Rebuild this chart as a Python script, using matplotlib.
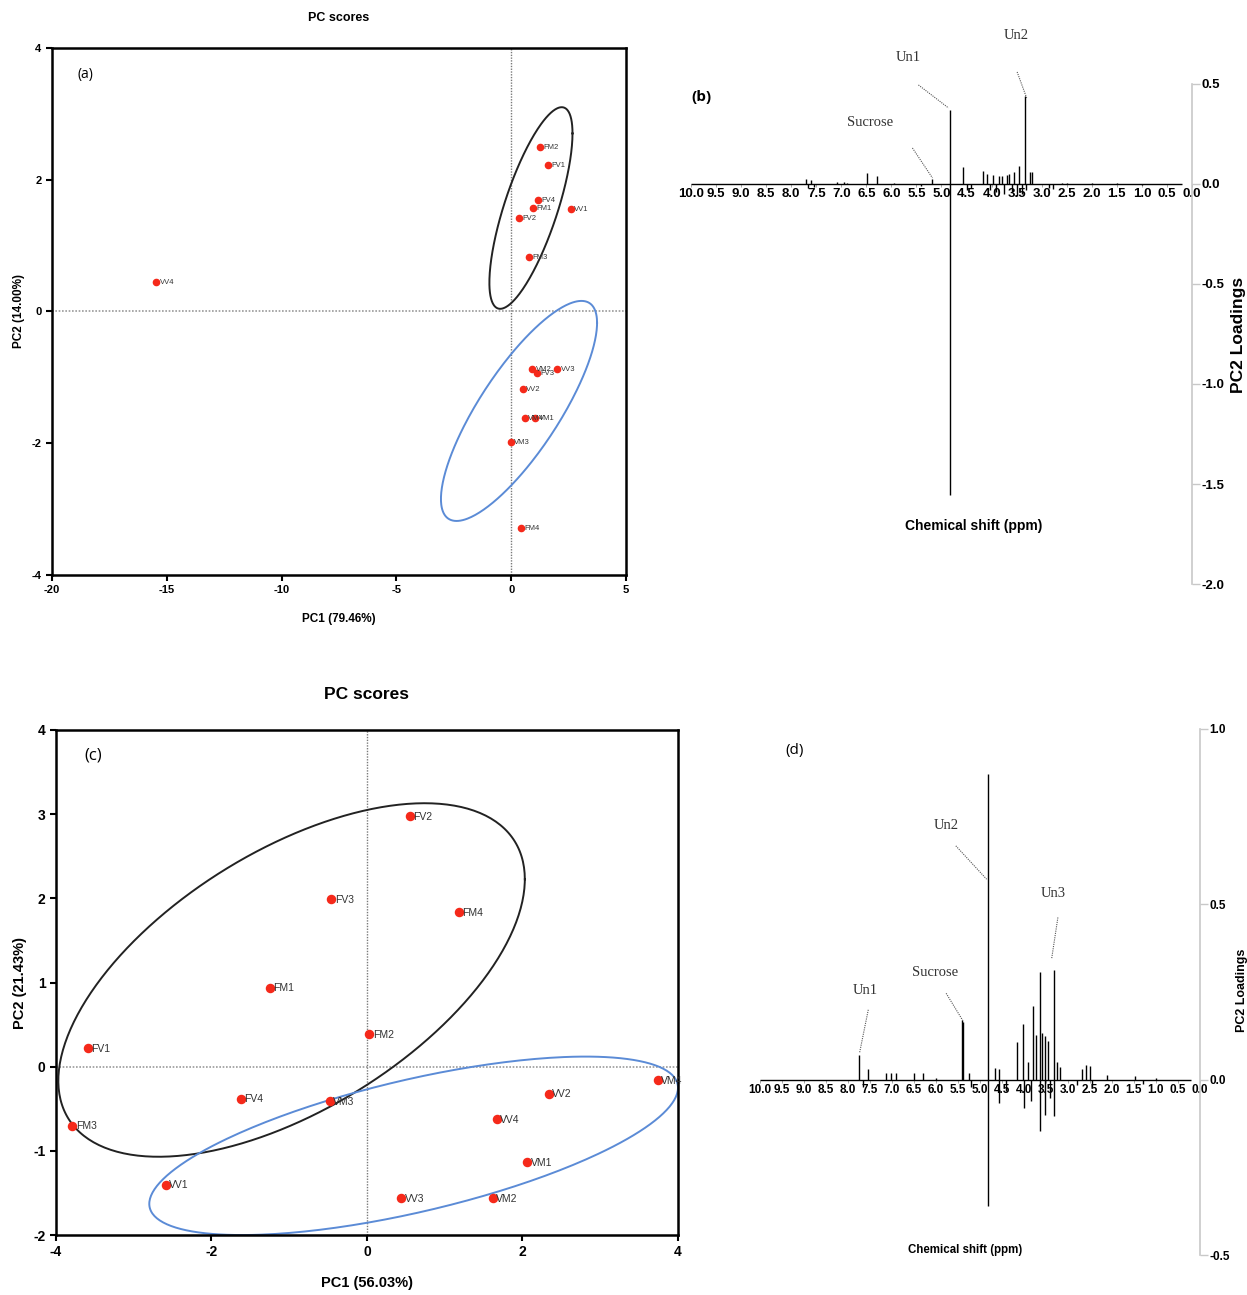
import numpy as np
import matplotlib
matplotlib.use("Agg")
import matplotlib.pyplot as plt
from matplotlib.ticker import FormatStrFormatter

plt.rcParams["font.family"] = ["Liberation Sans", "DejaVu Sans"]
plt.rcParams["axes.unicode_minus"] = False

# ---- panel (a) scores ----
a_labels = ["VV4", "FM2", "FV1", "FV4", "FM1", "FV2", "VV1", "FM3",
            "VM2", "FV3", "VV3", "VV2", "VM4", "VM1", "VM3", "FM4"]
a_pc1 = [-15.47, 1.25, 1.60, 1.17, 0.95, 0.34, 2.60, 0.78,
         0.91, 1.12, 2.00, 0.51, 0.60, 1.04, -0.01, 0.43]
a_pc2 = [0.45, 2.50, 2.22, 1.69, 1.57, 1.42, 1.56, 0.83,
         -0.87, -0.93, -0.87, -1.17, -1.61, -1.61, -1.98, -3.28]
# group ellipses: centre x, centre y, half range x, half range y, tilt (corr)
a_ell_black = [0.86, 1.57, 1.81, 1.53, 0.74]
a_ell_blue = [0.34, -1.51, 3.40, 1.67, 0.80]

# ---- panel (c) scores ----
c_labels = ["FV2", "FV3", "FM4", "FM1", "FM2", "FV1", "FV4", "VM3",
            "FM3", "VV1", "VV3", "VM2", "VM1", "VV4", "VV2", "VM4"]
c_pc1 = [0.55, -0.46, 1.18, -1.25, 0.03, -3.59, -1.62, -0.48,
         -3.79, -2.59, 0.44, 1.62, 2.06, 1.67, 2.34, 3.74]
c_pc2 = [2.98, 1.99, 1.84, 0.94, 0.39, 0.22, -0.38, -0.41,
         -0.70, -1.40, -1.56, -1.56, -1.13, -0.62, -0.32, -0.16]
c_ell_black = [-0.97, 1.03, 3.00, 2.10, 0.57]
c_ell_blue = [0.60, -0.94, 3.40, 1.06, 0.65]

# ---- panel (b) PC2 loadings (peak positions in ppm, loading) ----
b_ppm = [7.71, 7.66, 7.60, 7.55, 7.09, 6.95, 6.88, 6.48, 6.28, 5.95, 5.40, 5.18,
         4.83, 4.83, 4.58, 4.50, 4.42, 4.17, 4.10, 4.04, 3.98, 3.92, 3.85, 3.80,
         3.75, 3.70, 3.65, 3.60, 3.55, 3.50, 3.45, 3.40, 3.33, 3.31, 3.24, 3.19,
         2.85, 2.78, 2.60, 2.50, 2.00, 1.50, 1.00]
b_load = [0.025, -0.02, 0.02, -0.015, 0.008, 0.01, 0.006, 0.057, 0.042, 0.005, -0.01, 0.024,
          0.37, -1.555, 0.084, -0.03, -0.02, 0.067, 0.05, -0.03, 0.045, -0.04, 0.04, 0.04,
          -0.05, 0.045, 0.05, -0.04, 0.06, -0.06, 0.091, -0.05, 0.44, -0.03, 0.06, 0.062,
          -0.02, -0.025, 0.006, 0.005, 0.004, 0.003, -0.003]
b_ticks = np.arange(0, 10.01, 0.5)
b_yticks = [0.5, 0.0, -0.5, -1.0, -1.5, -2.0]
b_notes = [("Sucrose", 6.43, 0.305, 5.58, 0.18, 5.18, 0.03),
           ("Un1", 5.66, 0.63, 5.46, 0.495, 4.86, 0.38),
           ("Un2", 3.51, 0.74, 3.49, 0.56, 3.30, 0.43)]

# ---- panel (d) PC2 loadings ----
d_ppm = [7.75, 7.65, 7.55, 7.13, 7.02, 6.90, 6.50, 6.30, 5.99, 5.40, 5.38, 5.24, 5.20,
         4.82, 4.82, 4.67, 4.57, 4.56, 4.42, 4.17, 4.02, 4.00, 3.91, 3.85, 3.79, 3.73,
         3.64, 3.64, 3.60, 3.53, 3.53, 3.45, 3.40, 3.32, 3.31, 3.25, 3.19, 2.80,
         2.69, 2.58, 2.50, 2.45, 2.12, 1.48, 1.30, 1.00]
d_load = [0.071, -0.02, 0.03, 0.021, 0.02, 0.02, 0.019, 0.021, 0.005, 0.170, 0.165, 0.02, -0.02,
          0.871, -0.358, 0.033, 0.03, -0.066, -0.03, 0.107, 0.159, -0.08, 0.05, -0.06, 0.211, 0.129,
          0.307, -0.146, 0.133, 0.124, -0.099, 0.11, -0.05, 0.314, -0.104, 0.05, 0.038, -0.015,
          0.03, 0.043, 0.04, -0.02, 0.015, 0.012, -0.012, 0.006]
d_ticks = np.arange(0, 10.01, 0.5)
d_yticks = [1.0, 0.5, 0.0, -0.5]
d_notes = [("Un1", 7.61, 0.254, 7.54, 0.20, 7.74, 0.076),
           ("Sucrose", 6.02, 0.306, 5.77, 0.247, 5.39, 0.169),
           ("Un2", 5.77, 0.726, 5.55, 0.667, 4.85, 0.572),
           ("Un3", 3.33, 0.53, 3.23, 0.463, 3.37, 0.347)]

red = "#f5291a"


def ellipse(ax, params, color):
    cx, cy, hx, hy, r = params
    t = np.linspace(0, 2 * np.pi, 300)
    x = cx + hx * np.cos(t)
    y = cy + hy * (r * np.cos(t) + np.sqrt(1 - r * r) * np.sin(t))
    ax.plot(x, y, color=color, lw=1.4)


def scores_panel(ax, pc1, pc2, labels, xlim, ylim, xticks, yticks, tag,
                 xlabel, ylabel, sizes):
    fs_tick, fs_lab, fs_title, fs_pt, ms = sizes
    ax.axhline(0, color="#9a9a9a", ls=(0, (1, 1)), lw=1.2, zorder=0)
    ax.axvline(0, color="#7a7a7a", ls=(0, (1, 1)), lw=1.0, zorder=0)
    ax.scatter(pc1, pc2, s=ms, color=red, zorder=3)
    for x, y, t in zip(pc1, pc2, labels):
        ax.annotate(t, (x, y), xytext=(2.5, -0.5), textcoords="offset points",
                    va="center", ha="left", fontsize=fs_pt, color="#333333")
    ax.set_xlim(xlim)
    ax.set_ylim(ylim)
    ax.set_xticks(xticks)
    ax.set_yticks(yticks)
    for s in ax.spines.values():
        s.set_linewidth(1.8)
    ax.tick_params(direction="out", length=4, width=1.5, labelsize=fs_tick)
    for lab in ax.get_xticklabels() + ax.get_yticklabels():
        lab.set_fontweight("bold")
    ax.text(0.045, 0.95, tag, transform=ax.transAxes, fontsize=fs_title - 1,
            family=["Open Sans", "DejaVu Sans"], va="center")
    ax.set_xlabel(xlabel, fontsize=fs_lab, fontweight="bold")
    ax.set_ylabel(ylabel, fontsize=fs_lab, fontweight="bold")


def loadings_panel(ax, ppm, load, span, ticks, yticks, ylim, tag, notes,
                   tick_fs, lab_fs, note_fs, chem_xy, lab_xy):
    ax.hlines(0, span[0], span[1], color="black", lw=1.0)
    ax.vlines(ppm, 0, load, color="black", lw=1.0)
    ax.set_xlim(10.0, 0.0)
    ax.set_ylim(ylim)
    for k in ["top", "left"]:
        ax.spines[k].set_visible(False)
    ax.spines["bottom"].set_position(("data", 0))
    ax.spines["bottom"].set_visible(False)
    ax.spines["right"].set_color("#c8c8c8")
    ax.spines["right"].set_linewidth(1.2)
    ax.spines["right"].set_bounds(yticks[-1], yticks[0])
    ax.yaxis.tick_right()
    ax.set_yticks(yticks)
    ax.yaxis.set_major_formatter(FormatStrFormatter("%.1f"))
    ax.tick_params(axis="y", direction="out", length=6, width=1.0, color="#c8c8c8",
                   labelsize=tick_fs, pad=1)
    ax.set_xticks(ticks)
    ax.xaxis.set_major_formatter(FormatStrFormatter("%.1f"))
    ax.tick_params(axis="x", direction="out", length=2, width=0.6, color="#999999",
                   labelsize=tick_fs, pad=1)
    for lab in ax.get_xticklabels() + ax.get_yticklabels():
        lab.set_fontweight("bold")
    for name, tx, ty, x0, y0, x1, y1 in notes:
        ax.text(tx, ty, name, ha="center", va="center", fontsize=note_fs,
                family=["Liberation Serif", "DejaVu Serif"], color="#333333", clip_on=False)
        ax.plot([x0, x1], [y0, y1], color="#555555", ls=(0, (1, 1)), lw=0.8, clip_on=False)
    ax.text(tag[1], tag[2], tag[0], ha="left", va="center", fontsize=11,
            family=["Open Sans", "DejaVu Sans"], fontweight=tag[3])
    ax.text(chem_xy[0], chem_xy[1], "Chemical shift (ppm)", ha="center", va="center",
            fontsize=lab_fs, fontweight="bold")
    ax.text(lab_xy[0], lab_xy[1], "PC2 Loadings", transform=ax.transAxes, rotation=90,
            ha="center", va="center", fontsize=lab_xy[2], fontweight="bold")


fig = plt.figure(figsize=(12.47, 12.95), dpi=100)

ax_a = fig.add_axes([0.0417, 0.556, 0.4603, 0.407])
ellipse(ax_a, a_ell_black, "#222222")
ellipse(ax_a, a_ell_blue, "#5b8bd6")
scores_panel(ax_a, a_pc1, a_pc2, a_labels, (-20, 5), (-4, 4),
             [-20, -15, -10, -5, 0, 5], [-4, -2, 0, 2, 4], "(a)",
             "PC1 (79.46%)", "PC2 (14.00%)", (8, 8.5, 11, 5.5, 20))
ax_a.xaxis.set_label_coords(0.5, -0.072)
ax_a.yaxis.set_label_coords(-0.047, 0.5)
ax_a.text(0.5, 1.057, "PC scores", transform=ax_a.transAxes, ha="center",
          va="center", fontsize=9, fontweight="bold")

ax_c = fig.add_axes([0.0449, 0.0463, 0.4988, 0.39])
ellipse(ax_c, c_ell_black, "#222222")
ellipse(ax_c, c_ell_blue, "#5b8bd6")
scores_panel(ax_c, c_pc1, c_pc2, c_labels, (-4, 4), (-2, 4),
             [-4, -2, 0, 2, 4], [-2, -1, 0, 1, 2, 3, 4], "(c)",
             "PC1 (56.03%)", "PC2 (21.43%)", (10, 10.5, 13, 7.5, 34))
ax_c.xaxis.set_label_coords(0.5, -0.082)
ax_c.yaxis.set_label_coords(-0.047, 0.5)
ax_c.text(0.5, 1.071, "PC scores", transform=ax_c.transAxes, ha="center",
          va="center", fontsize=12.5, fontweight="bold")

ax_b = fig.add_axes([0.5541, 0.5413, 0.4018, 0.4402])
loadings_panel(ax_b, b_ppm, b_load, (10.0, 0.2), b_ticks, b_yticks, (-2.05, 0.8),
               ("(b)", 10.0, 0.435, "bold"), b_notes, 9.5, 10, 10.5,
               (4.36, -1.71), (1.092, 0.454, 12.5))

ax_d = fig.add_axes([0.6095, 0.01695, 0.3528, 0.4337])
loadings_panel(ax_d, d_ppm, d_load, (10.0, 0.2), d_ticks, d_yticks, (-0.55, 1.05),
               ("(d)", 9.43, 0.94, "normal"), d_notes, 8.5, 8.3, 10.5,
               (5.34, -0.484), (1.095, 0.504, 9))

fig.savefig("out.png", dpi=100)
